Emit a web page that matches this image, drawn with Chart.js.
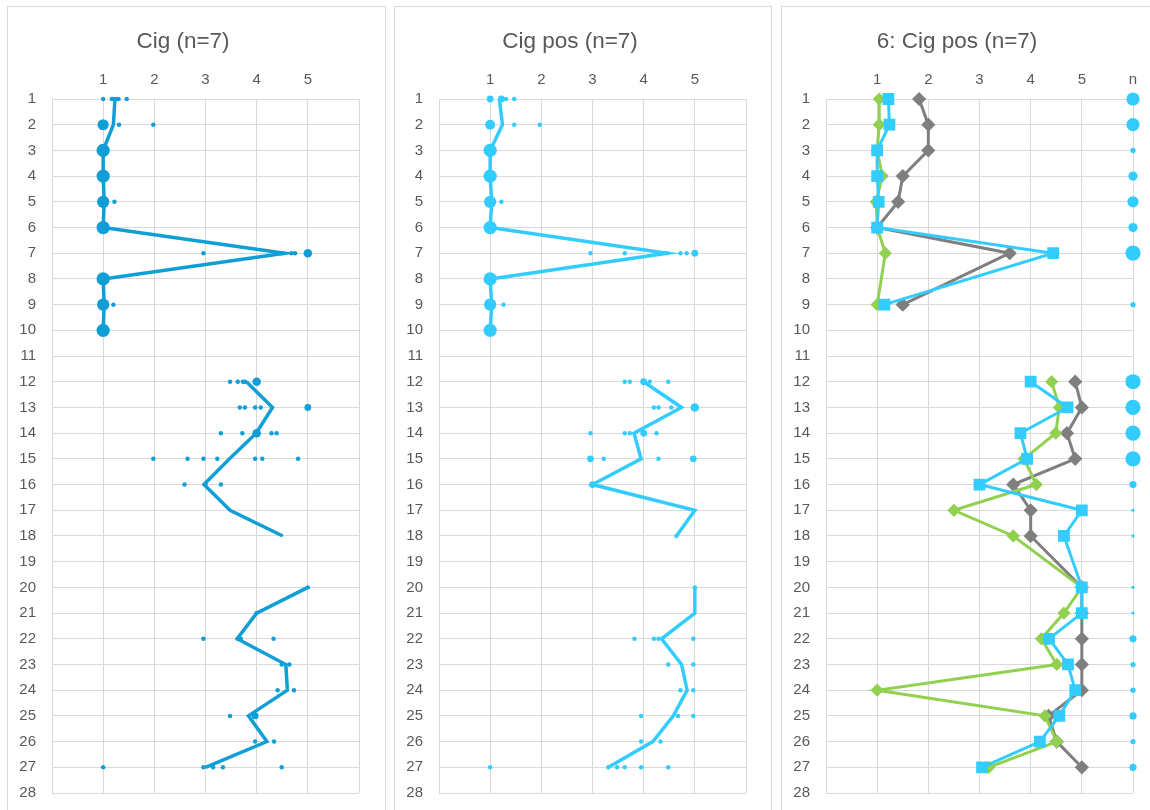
<!DOCTYPE html>
<html lang="en">
<head>
    <meta charset="UTF-8">
    <title>Cig profiles</title>
    <style>
        body { margin: 0; background: #fff; width: 1150px; height: 810px; overflow: hidden; position: relative; }
        .frame { position: absolute; top: 6px; height: 830px; border: 1px solid #d9d9d9; box-sizing: border-box; }
        canvas { position: absolute; top: 6px; }
    </style>
</head>
<body>
    <div class="frame" style="left:7px;width:379px"></div>
    <div class="frame" style="left:394px;width:378px"></div>
    <div class="frame" style="left:781px;width:378px"></div>
    <canvas id="cig" width="378" height="804" style="left:7px"></canvas>
    <canvas id="cigPos" width="378" height="804" style="left:394px"></canvas>
    <canvas id="cigPos6" width="378" height="804" style="left:781px"></canvas>

    <script src="https://cdn.jsdelivr.net/npm/chart.js"></script>
    <script>
        // rows (items) 1..27, null = no answer for that item
        var itemRows = [1,2,3,4,5,6,7,8,9,10,11,12,13,14,15,16,17,18,19,20,21,22,23,24,25,26,27];
        var cigMean    = [1.23,1.2,1.0,1.0,1.02,1.0,4.55,1.0,1.02,1.0,null,3.8,4.31,3.99,3.47,2.97,3.48,4.51,null,5.0,4.0,3.62,4.57,4.6,3.84,4.2,3.0];
        var cigPosMean = [1.18,1.24,1.0,1.0,1.03,1.0,4.46,1.0,1.03,1.0,null,4.0,4.74,3.81,3.95,3.0,5.0,4.64,null,5.0,5.0,4.35,4.74,4.85,4.58,4.18,3.31];

        // individual answers: [row, value, how many]
        var cigAnswers = [
            [1,1.0,1],[1,1.17,1],[1,1.2,1],[1,1.25,1],[1,1.3,1],[1,1.46,1],
            [2,1.0,5],[2,1.31,1],[2,1.98,1],
            [3,1.0,7],[4,1.0,7],[5,1.0,6],[5,1.22,1],[6,1.0,7],
            [7,2.96,1],[7,4.5,1],[7,4.68,1],[7,4.75,1],[7,5.0,3],
            [8,1.0,7],[9,1.0,6],[9,1.2,1],[10,1.0,7],
            [12,3.48,1],[12,3.63,1],[12,3.73,1],[12,3.77,1],[12,4.0,3],
            [13,3.67,1],[13,3.77,1],[13,3.97,1],[13,4.08,1],[13,5.0,2],
            [14,3.3,1],[14,3.72,1],[14,4.0,3],[14,4.29,1],[14,4.39,1],
            [15,1.98,1],[15,2.65,1],[15,2.96,1],[15,3.23,1],[15,3.97,1],[15,4.11,1],[15,4.81,1],
            [16,2.59,1],[16,3.0,1],[16,3.3,1],
            [20,5.0,1],[21,4.0,1],
            [22,2.96,1],[22,3.63,1],[22,3.69,1],[22,4.33,1],
            [23,4.49,1],[23,4.64,1],
            [24,4.41,1],[24,4.73,1],
            [25,3.48,1],[25,3.97,2],
            [26,3.97,1],[26,4.34,1],
            [27,1.0,1],[27,2.96,1],[27,3.15,1],[27,3.34,1],[27,4.49,1]
        ];
        var cigPosAnswers = [
            [1,1.0,2],[1,1.22,2],[1,1.31,1],[1,1.47,1],
            [2,1.0,4],[2,1.47,1],[2,1.97,1],
            [3,1.0,7],[4,1.0,7],[5,1.0,6],[5,1.22,1],[6,1.0,7],
            [7,2.96,1],[7,3.63,1],[7,4.46,1],[7,4.72,1],[7,4.84,1],[7,5.0,2],
            [8,1.0,7],[9,1.0,6],[9,1.26,1],[10,1.0,7],
            [12,3.63,1],[12,3.73,1],[12,4.0,2],[12,4.12,1],[12,4.48,1],
            [13,4.2,1],[13,4.29,1],[13,4.54,1],[13,5.0,3],
            [14,2.96,1],[14,3.63,1],[14,3.73,1],[14,4.0,2],[14,4.25,1],
            [15,2.96,2],[15,3.22,1],[15,4.29,1],[15,4.97,2],
            [16,3.0,2],[18,4.64,1],[20,5.0,1],
            [22,3.82,1],[22,4.2,1],[22,4.29,1],[22,4.97,1],
            [23,4.48,1],[23,4.97,1],
            [24,4.72,1],[24,4.97,1],
            [25,3.95,1],[25,4.67,1],[25,4.97,1],
            [26,3.95,1],[26,4.33,1],
            [27,1.0,1],[27,3.31,1],[27,3.48,1],[27,3.63,1],[27,3.95,1],[27,4.48,1]
        ];

        // group 6 comparison: rows 8 and 19 not asked, 10 breaks the line
        var groupRows = [1,2,3,4,5,6,7,9,10,12,13,14,15,16,17,18,20,21,22,23,24,25,26,27];
        var groupGrey  = [1.82,2.0,2.0,1.5,1.41,1.0,3.59,1.5,null,4.87,5.0,4.71,4.87,3.66,4.0,4.0,5.0,5.0,5.0,5.0,5.0,4.35,4.51,5.0];
        var groupGreen = [1.04,1.04,1.0,1.1,0.98,1.0,1.16,1.0,null,4.41,4.56,4.49,3.87,4.11,2.5,3.66,5.0,4.65,4.21,4.51,1.0,4.28,4.51,3.18];
        var groupCyan  = [1.22,1.24,1.0,1.0,1.03,1.0,4.44,1.14,null,4.0,4.72,3.8,3.93,3.0,5.0,4.65,5.0,5.0,4.36,4.73,4.87,4.56,4.18,3.05];
        var nRows   = [1,2,3,4,5,6,7,9,12,13,14,15,16,17,18,20,21,22,23,24,25,26,27];
        var nCounts = [6,6,2,4,5,4,7,2,7,7,7,7,3,1,1,1,1,3,2,2,3,2,3];

        var xLabels = ['', '1', '2', '3', '4', '5', ''];
        var xLabelsN = ['', '1', '2', '3', '4', '5', 'n'];

        var TEXT = '#595959';
        var GRID = '#d9d9d9';
        var FONT = "'Liberation Sans', Arial, sans-serif";

        function pts(rows, vals) {
            return rows.map(function (r, i) { return { x: vals[i], y: r }; });
        }
        function answerBubbles(list) {
            // bubble area grows with the number of answers
            return list.map(function (a) { return { x: a[1], y: a[0], r: Math.sqrt(6.5 * a[2] - 1.5) }; });
        }

        function lineSet(data, color, width, extra) {
            var ds = {
                type: 'scatter', data: data, showLine: true, spanGaps: false,
                borderColor: color, backgroundColor: color, borderWidth: width,
                pointRadius: 0, pointHoverRadius: 0, clip: false
            };
            for (var k in extra) ds[k] = extra[k];
            return ds;
        }

        function makeChart(id, title, labels, datasets) {
            var ctx = document.getElementById(id).getContext('2d');
            return new Chart(ctx, {
                type: 'bubble',
                data: { datasets: datasets },
                options: {
                    responsive: false,
                    animation: false,
                    devicePixelRatio: 1,
                    layout: { padding: { left: 0, right: 26, top: 0, bottom: 17 } },
                    plugins: {
                        legend: { display: false },
                        tooltip: { enabled: false },
                        title: {
                            display: true, text: title, color: TEXT,
                            font: { family: FONT, size: 22.5, weight: 'normal' },
                            padding: { top: 22, bottom: 10 }
                        }
                    },
                    scales: {
                        x: {
                            type: 'linear', position: 'top', min: 0, max: 6,
                            afterFit: function (s) { s.height = 34; s.paddingLeft = 0; s.paddingRight = 0; },
                            grid: { color: GRID, drawTicks: false },
                            border: { color: GRID },
                            ticks: {
                                stepSize: 1, padding: 10, color: TEXT, maxRotation: 0,
                                font: { family: FONT, size: 15 },
                                callback: function (v) { return labels[v]; }
                            }
                        },
                        y: {
                            type: 'linear', reverse: true, min: 1, max: 28,
                            afterFit: function (s) { s.width = 45; s.paddingTop = 0; s.paddingBottom = 0; },
                            grid: { color: GRID, drawTicks: false },
                            border: { color: GRID },
                            ticks: {
                                stepSize: 1, autoSkip: false, padding: 16, color: TEXT,
                                font: { family: FONT, size: 15 }
                            }
                        }
                    }
                }
            });
        }

        var DARK = '#0f9ed5';
        var LIGHT = '#33ccff';
        var GREY = '#7f7f7f';
        var GREEN = '#92d050';

        makeChart('cig', 'Cig (n=7)', xLabels, [
            lineSet(pts(itemRows, cigMean), DARK, 3.5),
            { data: answerBubbles(cigAnswers), backgroundColor: DARK, borderWidth: 0, clip: false }
        ]);

        makeChart('cigPos', 'Cig pos (n=7)', xLabels, [
            lineSet(pts(itemRows, cigPosMean), LIGHT, 3.5),
            { data: answerBubbles(cigPosAnswers), backgroundColor: LIGHT, borderWidth: 0, clip: false }
        ]);

        // first dataset is painted on top
        makeChart('cigPos6', '6: Cig pos (n=7)', xLabelsN, [
            lineSet(pts(groupRows, groupCyan), LIGHT, 3, { pointStyle: 'rect', pointRadius: 6.2 }),
            lineSet(pts(groupRows, groupGreen), GREEN, 3, { pointStyle: 'rectRot', pointRadius: 4.5 }),
            lineSet(pts(groupRows, groupGrey), GREY, 3, { pointStyle: 'rectRot', pointRadius: 5 }),
            {
                data: nRows.map(function (r, i) { return { x: 6, y: r, r: nCounts[i] + 0.6 }; }),
                backgroundColor: LIGHT, borderWidth: 0, clip: false
            }
        ]);
    </script>
</body>
</html>
